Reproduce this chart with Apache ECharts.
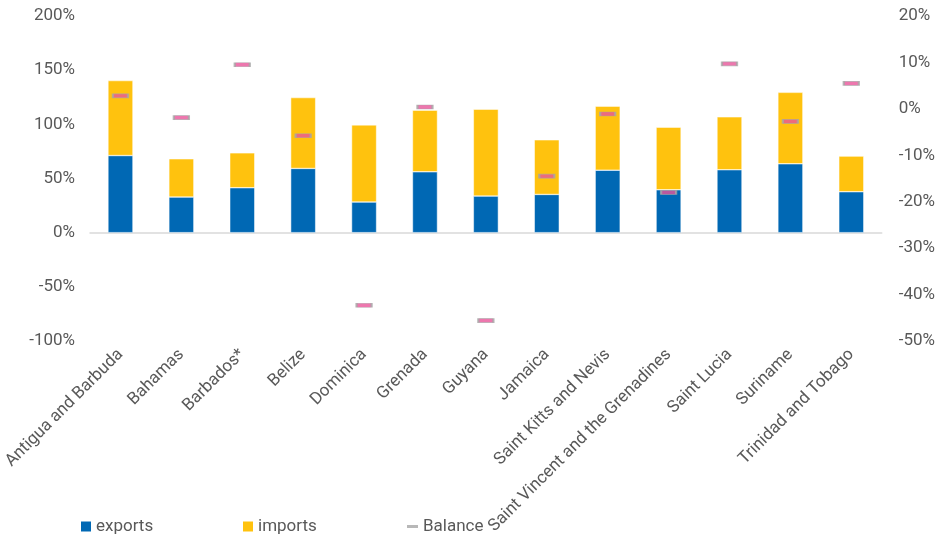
<!DOCTYPE html>
<html><head><meta charset="utf-8">
<script src="https://cdn.jsdelivr.net/npm/echarts@6/dist/echarts.min.js"></script>
<style>html,body{margin:0;padding:0;background:#fff}#c{width:938px;height:538px}</style>
</head><body><div id="c"></div>
<script>
const categories = ["Antigua and Barbuda","Bahamas","Barbados*","Belize","Dominica","Grenada","Guyana","Jamaica","Saint Kitts and Nevis","Saint Vincent and the Grenadines","Saint Lucia","Suriname","Trinidad and Tobago"];
const exportsVals = [71.2, 32.9, 41.5, 59.3, 28.3, 56.2, 33.8, 35.3, 57.7, 39.6, 58.1, 63.6, 37.8];
const importsVals = [69.2, 35.3, 32.2, 65.4, 71.2, 56.9, 80.2, 50.4, 59.1, 57.8, 48.8, 65.9, 32.9];
const balanceVals = [2.8, -1.9, 9.5, -5.8, -42.3, 0.4, -45.6, -14.5, -1.1, -18.0, 9.7, -2.7, 5.5];

const txt = '#595959';
const font = 'Roboto';
const fs = 17;
const chart = echarts.init(document.getElementById('c'), null, {renderer:'canvas'});
chart.setOption({
  animation:false,
  textStyle:{fontFamily:font},
  grid:{left:90,right:53,top:16,bottom:197,containLabel:false},
  legend:[
    {data:['exports'],left:76,top:513,itemWidth:10,itemHeight:10,textStyle:{color:txt,fontSize:fs,fontFamily:font},icon:'rect',itemStyle:{borderWidth:0}},
    {data:['imports'],left:238,top:513,itemWidth:10,itemHeight:10,textStyle:{color:txt,fontSize:fs,fontFamily:font},icon:'rect',itemStyle:{borderWidth:0}},
    {data:['Balance'],left:402,top:513,itemWidth:11,itemHeight:3,textStyle:{color:txt,fontSize:fs,fontFamily:font},icon:'rect',
     itemStyle:{color:'#A6A6A6',borderWidth:0}}
  ],
  xAxis:[
    {type:'category',data:categories,position:'bottom',
     axisLine:{show:false,onZero:false},axisTick:{show:false},
     axisLabel:{rotate:45,interval:0,color:txt,fontSize:fs,fontFamily:font,margin:11}},
    {type:'category',data:categories,position:'bottom',
     axisLine:{show:true,onZero:true,onZeroAxisIndex:0,lineStyle:{color:'#d9d9d9',width:1.5}},
     axisTick:{show:false},axisLabel:{show:false}}
  ],
  yAxis:[
    {type:'value',min:-100,max:200,interval:50,splitLine:{show:false},
     axisLine:{show:false},axisTick:{show:false},
     axisLabel:{formatter:'{value}%',color:txt,fontSize:fs,fontFamily:font,margin:15}},
    {type:'value',min:-50,max:20,interval:10,position:'right',splitLine:{show:false},
     axisLine:{show:false},axisTick:{show:false},
     axisLabel:{formatter:'{value}%',color:txt,fontSize:fs,fontFamily:font,margin:17}}
  ],
  series:[
    {name:'exports',type:'bar',stack:'t',data:exportsVals,barWidth:25,
     itemStyle:{color:'#0068B4',borderColor:'#ffffff',borderWidth:0.5}},
    {name:'imports',type:'bar',stack:'t',data:importsVals,barWidth:25,
     itemStyle:{color:'#FFC20E',borderColor:'#ffffff',borderWidth:0.5}},
    {name:'Balance',type:'scatter',yAxisIndex:1,data:balanceVals,symbol:'rect',symbolSize:[15,4],
     itemStyle:{color:'#E8559A',borderColor:'#A6A6A6',borderWidth:1.2},z:5}
  ]
});
</script></body></html>
